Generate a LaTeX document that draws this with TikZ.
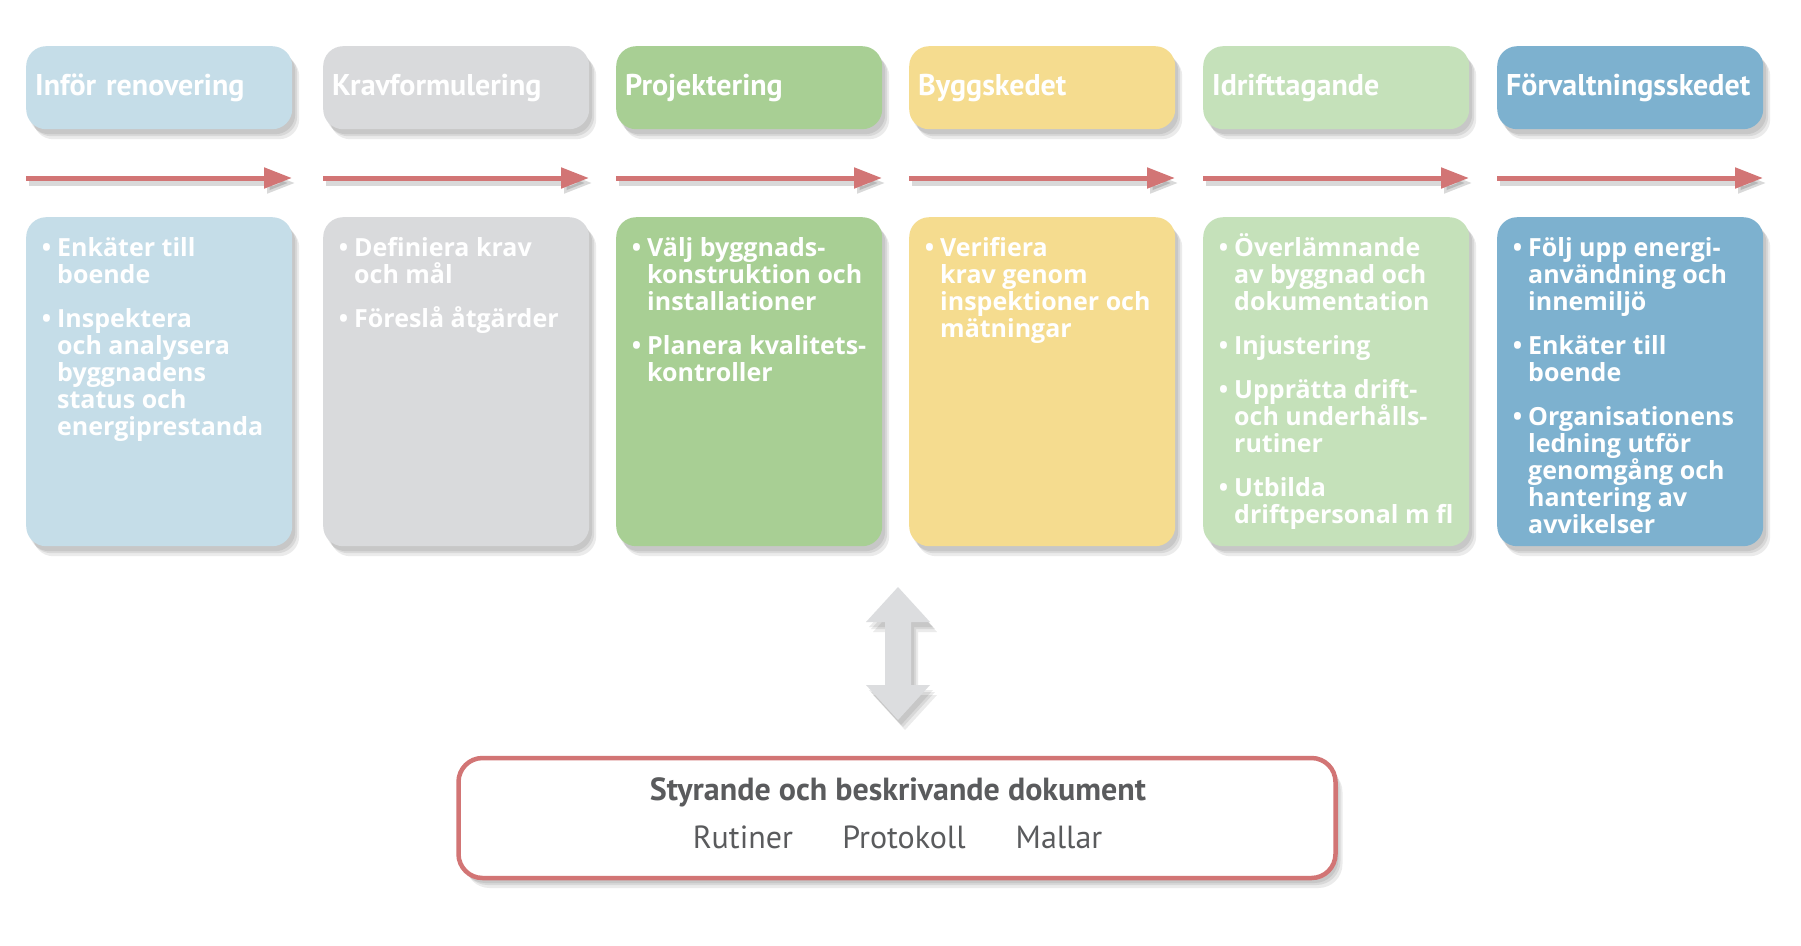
\documentclass[tikz,border=0pt]{standalone}
\usepackage{fontspec}
\setmainfont{PT Sans}
\newfontfamily\bodyfont{Open Sans}
\usetikzlibrary{shadows,arrows.meta}
\definecolor{cA}{HTML}{C5DDE8}
\definecolor{cB}{HTML}{D9DADC}
\definecolor{cC}{HTML}{A8CF94}
\definecolor{cD}{HTML}{F5DC8F}
\definecolor{cE}{HTML}{C5E1BA}
\definecolor{cF}{HTML}{7DB1CF}
\definecolor{arr}{HTML}{D27575}
\definecolor{dgray}{HTML}{5A5B5D}
\definecolor{agray}{HTML}{DCDDDF}
\newcommand\bu{\llap{\textbullet\hspace{6pt}}}
\newcommand\fbu{\rule{0pt}{24pt}\bu}
\begin{document}
\begin{tikzpicture}[x=1pt,y=-1pt,
  sh/.style={general shadow={fill=black,opacity=.08,shadow xshift=3pt,shadow yshift=-5pt},
             general shadow={fill=black,opacity=.08,shadow xshift=5pt,shadow yshift=-7pt},
             general shadow={fill=black,opacity=.08,shadow xshift=7pt,shadow yshift=-10pt}},
  hdr/.style={sh,rounded corners=20pt,minimum width=266pt,minimum height=83pt,anchor=north west,
              inner xsep=9pt,text width=248pt,align=left,text=white,
              font=\bfseries\fontsize{30}{32}\selectfont},
  bdy/.style={sh,rounded corners=20pt,minimum width=266pt,minimum height=329pt,anchor=north west},
  btxt/.style={anchor=north west,inner sep=0pt,text=white,align=left,
               font=\bodyfont\bfseries\fontsize{25}{27}\selectfont},
  tl/.style={line width=5pt,draw=arr,-{Triangle[length=28pt,width=20pt]}},
  tlsh/.style={line width=5pt,draw=black,opacity=.15,-{Triangle[length=28pt,width=20pt]}},
  doctxt/.style={text=dgray,inner sep=0pt}
]
\fill[white] (0,0) rectangle (1801,945);
\useasboundingbox (0,0) rectangle (1801,945);

% headers
\node[hdr,fill=cA] (h1) at (26,46)   {Inför renovering};
\node[hdr,fill=cB] (h2) at (323,46)  {Kravformulering};
\node[hdr,fill=cC] (h3) at (616,46)  {Projektering};
\node[hdr,fill=cD] (h4) at (909,46)  {Byggskedet};
\node[hdr,fill=cE] (h5) at (1203,46) {Idrifttagande};
\node[hdr,fill=cF] (h6) at (1497,46) {Förvaltningsskedet};

% timeline arrows
\foreach \i/\x in {1/26,2/323,3/616,4/909,5/1203,6/1497}{
  \coordinate (a\i s) at (\x,178);
  \coordinate (a\i e) at (\x+266,178);
  \draw[tlsh] ([shift={(3,5)}]a\i s) -- ([shift={(3,5)}]a\i e);
  \draw[tl] (a\i s) -- (a\i e);
}

% bodies
\node[bdy,fill=cA] (b1) at (26,217)   {};
\node[bdy,fill=cB] (b2) at (323,217)  {};
\node[bdy,fill=cC] (b3) at (616,217)  {};
\node[bdy,fill=cD] (b4) at (909,217)  {};
\node[bdy,fill=cE] (b5) at (1203,217) {};
\node[bdy,fill=cF] (b6) at (1497,217) {};

\node[btxt] (t1) at ([shift={(31,15)}]b1.north west)
  {\fbu Enkäter till\\ boende\\[17pt]
   \bu Inspektera\\ och analysera\\ byggnadens\\ status och\\ energiprestanda};
\node[btxt] (t2) at ([shift={(31,15)}]b2.north west)
  {\fbu Definiera krav\\ och mål\\[17pt]
   \bu Föreslå åtgärder};
\node[btxt] (t3) at ([shift={(31,15)}]b3.north west)
  {\fbu Välj byggnads-\\ konstruktion och\\ installationer\\[17pt]
   \bu Planera kvalitets-\\ kontroller};
\node[btxt] (t4) at ([shift={(31,15)}]b4.north west)
  {\fbu Verifiera\\ krav genom\\ inspektioner och\\ mätningar};
\node[btxt] (t5) at ([shift={(31,15)}]b5.north west)
  {\fbu Överlämnande\\ av byggnad och\\ dokumentation\\[17pt]
   \bu Injustering\\[17pt]
   \bu Upprätta drift-\\ och underhålls-\\ rutiner\\[17pt]
   \bu Utbilda\\ driftpersonal m fl};
\node[btxt] (t6) at ([shift={(31,15)}]b6.north west)
  {\fbu Följ upp energi-\\ användning och\\ innemiljö\\[17pt]
   \bu Enkäter till\\ boende\\[17pt]
   \bu Organisationens\\ ledning utför\\ genomgång och\\ hantering av\\ avvikelser};

% double arrow
\coordinate (dt) at (898,587);
\coordinate (db) at (898,720);
\path[fill=agray,sh] (dt) -- ++(32,35) -- ++(-19,0) -- ++(0,63) -- ++(19,0) -- (db)
  -- ++(-32,-35) -- ++(19,0) -- ++(0,-63) -- ++(-19,0) -- cycle;

% document box
\node[sh,draw=arr,line width=4.5pt,fill=white,rounded corners=24pt,
      minimum width=877pt,minimum height=120pt] (doc) at (897,818) {};
\node[doctxt,font=\bfseries\fontsize{32}{34}\selectfont] (dtitle) at (898,792) {Styrande och beskrivande dokument};
\node[doctxt,font=\fontsize{32}{34}\selectfont] (r1) at (743,837) {Rutiner};
\node[doctxt,font=\fontsize{32}{34}\selectfont] (r2) at (904,837) {Protokoll};
\node[doctxt,font=\fontsize{32}{34}\selectfont] (r3) at (1059,837) {Mallar};
\end{tikzpicture}
\end{document}
